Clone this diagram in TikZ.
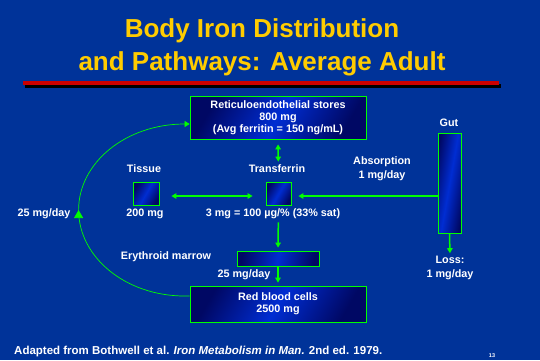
\documentclass[tikz,border=0pt]{standalone}
\usepackage{fontspec}
\setmainfont{Liberation Sans}
\usetikzlibrary{arrows.meta,decorations.markings}
\definecolor{bg}{RGB}{0,51,153}
\definecolor{ttl}{RGB}{255,204,0}
\definecolor{grn}{RGB}{0,255,0}
\definecolor{boxdark}{RGB}{0,8,100}
\definecolor{boxlight}{RGB}{0,45,210}
\definecolor{redline}{RGB}{204,0,0}
\begin{document}
\begin{tikzpicture}[x=1pt,y=1pt,
  every node/.style={inner sep=1pt},
  fbox/.style={draw=grn, line width=0.8pt, left color=boxdark, right color=boxdark,
    middle color=boxlight, shading angle=60, inner sep=0pt, text=white,
    font=\bfseries\fontsize{10.8}{12}\selectfont, align=center},
  lbl/.style={text=white, font=\bfseries\fontsize{10.8}{13.5}\selectfont, align=center},
  ttlstyle/.style={text=ttl, font=\bfseries\fontsize{26}{30}\selectfont, anchor=base},
  arr/.style={draw=grn, line width=1.5pt, -{Triangle[length=5pt,width=5.5pt]}},
  darr/.style={draw=grn, line width=1.5pt, {Triangle[length=5pt,width=5.5pt]}-{Triangle[length=5pt,width=5.5pt]}},
  thinarc/.style={draw=grn, line width=0.7pt, -{Triangle[length=5pt,width=6pt]},
    postaction={decorate},
    decoration={markings, mark=at position 0.5 with {\arrow{Triangle[length=8pt,width=9pt]}}}}
]
\fill[bg] (0,0) rectangle (540,-360);
\useasboundingbox (0,0) rectangle (540,-360);

% title
\node[ttlstyle] (title1) at (262,-37) {Body Iron Distribution};
\node[ttlstyle] (title2) at (262,-70) {and Pathways: Average Adult};
\fill[black] (25,-84) rectangle (501,-87.5);
\fill[redline] (23,-81) rectangle (499,-85);

% boxes
\node[fbox, minimum width=176pt, minimum height=43pt] (re) at (278,-117.5)
  {Reticuloendothelial stores\\800 mg\\(Avg ferritin = 150 ng/mL)};
\node[fbox, minimum width=26pt, minimum height=23pt] (tis) at (146,-193.5) {};
\node[fbox, minimum width=25pt, minimum height=23pt] (trf) at (278.5,-193.5) {};
\node[fbox, minimum width=23pt, minimum height=100pt, shading angle=80] (gut) at (449.5,-183) {};
\node[fbox, minimum width=82pt, minimum height=15pt, shading angle=80] (mar) at (278,-258.5) {};
\node[fbox, minimum width=176pt, minimum height=36pt] (rbc) at (278,-304)
  {Red blood cells\\2500 mg};

% labels
\node[lbl] (tislbl) at (144,-169) {Tissue};
\node[lbl] (trflbl) at (277,-169) {Transferrin};
\node[lbl] (gutlbl) at (449,-123) {Gut};
\node[lbl] (abslbl) at (382,-168.5) {Absorption\\1 mg/day};
\node[lbl] (losslbl) at (450,-268) {Loss:\\1 mg/day};
\node[lbl] (tismg) at (145,-214) {200 mg};
\node[lbl] (trfmg) at (273,-214) {3 mg = 100 µg/\% (33\% sat)};
\node[lbl] (recyc) at (44,-214) {25 mg/day};
\node[lbl] (marlbl) at (166,-257) {Erythroid marrow};
\node[lbl] (marday) at (244,-275) {25 mg/day};

% connectors
\draw[darr, shorten <=5pt, shorten >=20pt] (re.south) -- (trf.north);
\draw[darr, shorten <=12pt, shorten >=13pt] ([yshift=-2.5pt]tis.east) -- ([yshift=-2.5pt]trf.west);
\draw[arr, shorten >=7pt] ([yshift=-13pt]gut.west) -- ([yshift=-2.5pt]trf.east);
\draw[arr, shorten >=2pt] (gut.south) -- (losslbl.north);
\draw[arr, shorten <=17pt, shorten >=3pt] (trf.south) -- (mar.north);
\draw[arr, shorten >=3pt] (mar.south) -- (rbc.north);
\draw[thinarc] ([yshift=8pt]rbc.west) -- ++(-5,0)
  arc[start angle=270, end angle=90, x radius=106, y radius=86]
  -- ([yshift=-6.5pt]re.west);

% footer
\node[text=white, font=\bfseries\fontsize{11.5}{13}\selectfont, anchor=base west] (foot) at (13,-354)
  {Adapted from Bothwell et al. \textit{Iron Metabolism in Man.} 2nd ed. 1979.};
\node[text=white, font=\bfseries\fontsize{5.5}{6}\selectfont] (pg) at (492,-355.5) {13};
\end{tikzpicture}
\end{document}
